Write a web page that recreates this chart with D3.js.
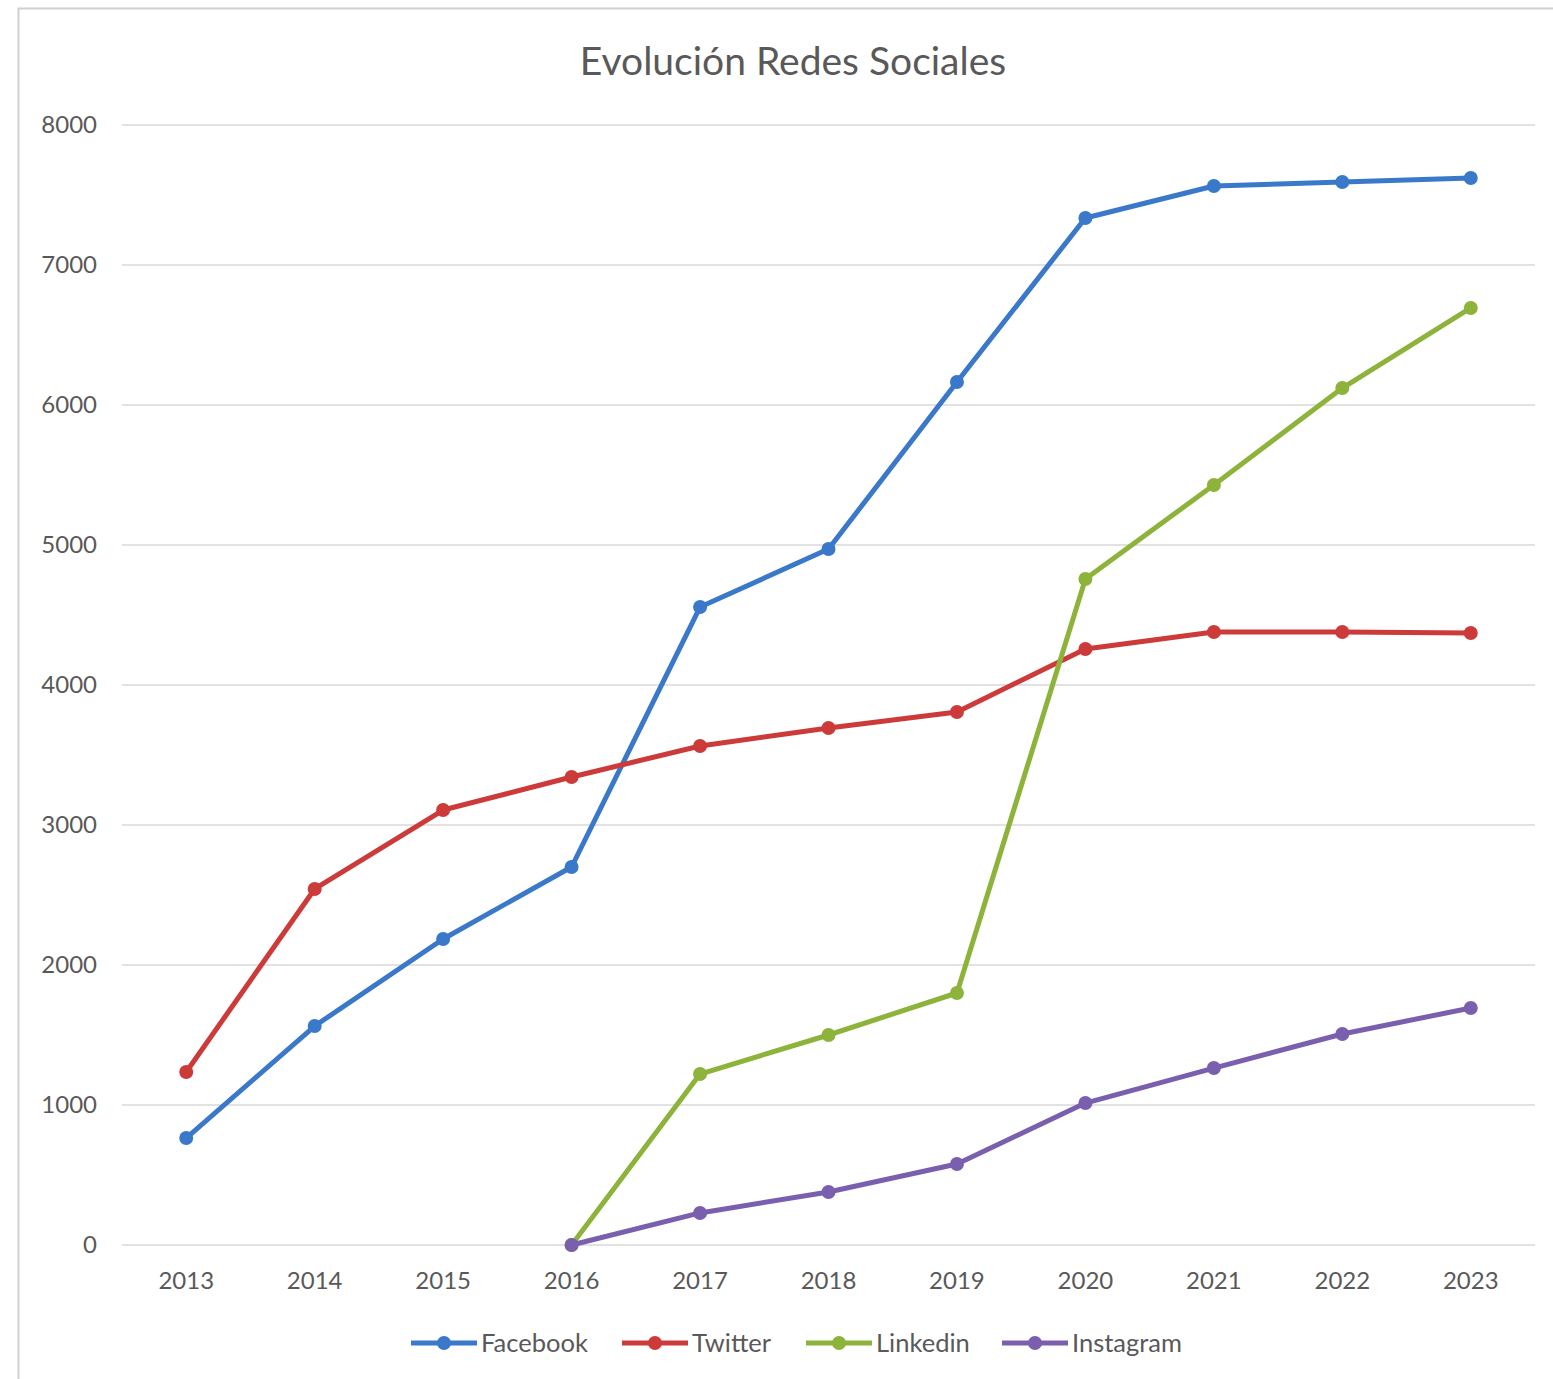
<!DOCTYPE html>
<html>
<head>
<meta charset="utf-8">
<script src="https://cdn.jsdelivr.net/npm/d3@7"></script>
<style>
  body { margin: 0; background: #fff; }
  svg { display: block; font-family: Lato, "Open Sans", sans-serif; }
</style>
</head>
<body>
<svg id="chart" width="1553" height="1379"></svg>
<script>
var years = ['2013','2014','2015','2016','2017','2018','2019','2020','2021','2022','2023'];
var yTicks = [0,1000,2000,3000,4000,5000,6000,7000,8000];

var facebook  = [764, 1564, 2186, 2700, 4557, 4971, 6164, 7336, 7564, 7593, 7621];
var twitter   = [1236, 2543, 3107, 3343, 3564, 3693, 3807, 4257, 4379, 4379, 4371];
var linkedin  = [null, null, null, 0, 1221, 1500, 1800, 4757, 5429, 6121, 6693];
var instagram = [null, null, null, 0, 229, 379, 579, 1014, 1264, 1507, 1693];

var seriesNames = ['Facebook','Twitter','Linkedin','Instagram'];
var seriesColors = ['#3a78c9','#cc3a3a','#8db33a','#7a5fae'];

var series = [facebook, twitter, linkedin, instagram].map(function(vals, i) {
    return {name: seriesNames[i], color: seriesColors[i],
        values: vals.map(function(v, j) { return {year: years[j], value: v}; }).filter(d => d.value !== null)};
});

var svg = d3.select("#chart");
var margin = {top: 125, left: 122, bottom: 134, right: 18};
var width = 1553, height = 1379;

// chart frame
svg.append("path")
    .attr("d", "M18.5," + height + "V8.5H" + width)
    .attr("fill", "none")
    .attr("stroke", "#d0d0d0")
    .attr("stroke-width", 2);

var x = d3.scaleBand()
    .domain(years)
    .range([margin.left, width - margin.right])
    .padding(0);

var y = d3.scaleLinear()
    .domain([0, 8000])
    .range([height - margin.bottom, margin.top]);

// gridlines
svg.append("g")
    .selectAll("line")
    .data(yTicks)
    .enter().append("line")
    .attr("x1", margin.left)
    .attr("x2", width - margin.right)
    .attr("y1", d => y(d))
    .attr("y2", d => y(d))
    .attr("stroke", "#d9d9d9")
    .attr("stroke-width", 1.5);

// y axis labels
var yAxis = svg.append("g")
    .attr("transform", `translate(${margin.left - 25},0)`)
    .call(d3.axisLeft(y).tickValues(yTicks).tickFormat(d3.format("d")).tickSize(0).tickPadding(0));
yAxis.select(".domain").remove();
yAxis.selectAll("text")
    .attr("font-size", "24px")
    .attr("font-family", "Lato, sans-serif")
    .attr("fill", "#595959");

// x axis labels
var xAxis = svg.append("g")
    .attr("transform", `translate(0,${y(0)})`)
    .call(d3.axisBottom(x).tickSize(0).tickPadding(27));
xAxis.select(".domain").remove();
xAxis.selectAll("text")
    .attr("font-size", "24px")
    .attr("font-family", "Lato, sans-serif")
    .attr("fill", "#595959");

var line = d3.line()
    .x(d => x(d.year) + x.bandwidth() / 2)
    .y(d => y(d.value));

var layer = svg.selectAll("g.layer")
    .data(series)
    .enter().append("g")
    .classed("layer", true);

layer.append("path")
    .attr("d", d => line(d.values))
    .attr("fill", "none")
    .attr("stroke", d => d.color)
    .attr("stroke-width", 5)
    .attr("stroke-linejoin", "round");

layer.selectAll("circle")
    .data(d => d.values.map(v => Object.assign({color: d.color}, v)))
    .enter().append("circle")
    .attr("cx", d => x(d.year) + x.bandwidth() / 2)
    .attr("cy", d => y(d.value))
    .attr("r", 7)
    .attr("fill", d => d.color);

// title
svg.append("text")
    .attr("x", 793)
    .attr("y", 75)
    .attr("text-anchor", "middle")
    .attr("font-size", "39px")
    .attr("fill", "#595959")
    .text("Evolución Redes Sociales");

// legend
var legendX = [411, 622, 806, 1002];
var legend = svg.selectAll("g.legend")
    .data(series)
    .enter().append("g")
    .attr("class", "legend")
    .attr("transform", (d, i) => `translate(${legendX[i]},1343)`);

legend.append("line")
    .attr("x1", 0).attr("x2", 66)
    .attr("stroke", d => d.color)
    .attr("stroke-width", 5);
legend.append("circle")
    .attr("cx", 33).attr("r", 7)
    .attr("fill", d => d.color);
legend.append("text")
    .attr("x", 70)
    .attr("y", 9)
    .attr("font-size", "25.5px")
    .attr("fill", "#595959")
    .text(d => d.name);
</script>
</body>
</html>
